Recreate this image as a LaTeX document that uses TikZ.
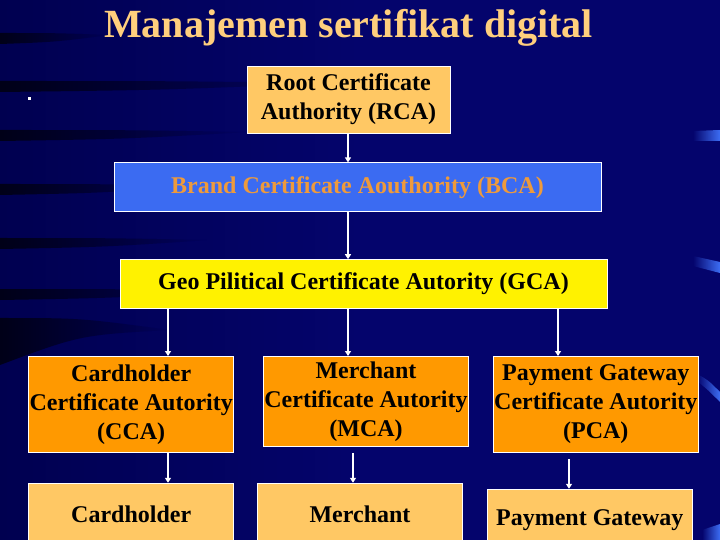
\documentclass[tikz,border=0pt]{standalone}
\usepackage{fontspec}
\setmainfont{Liberation Serif}
\usetikzlibrary{arrows.meta, positioning, fadings}

\definecolor{slidebg}{HTML}{04046C}
\definecolor{slidedark}{HTML}{000050}
\definecolor{titleorange}{HTML}{FFCF7D}
\definecolor{rootorange}{HTML}{FFC864}
\definecolor{caorange}{HTML}{FF9900}
\definecolor{brandblue}{HTML}{3B6BF2}
\definecolor{brandtext}{HTML}{EE9A3C}
\definecolor{glintblue}{HTML}{3D6EF5}

\begin{document}
\begin{tikzpicture}[
    x=1pt, y=-1pt,
    node distance=29pt,
    mynode/.style={draw=white, line width=0.8pt, align=center, inner sep=0pt,
        font=\bfseries\fontsize{24}{29}\selectfont},
    myarrow/.style={-{Triangle[length=5pt, width=6pt]}, white, line width=1.3pt},
    mylight/.style={fill=rootorange, minimum width=205pt, minimum height=62pt},
    myorange/.style={fill=caorange, minimum width=205pt, minimum height=96pt},
    myblue/.style={fill=brandblue, text=brandtext, minimum width=487pt, minimum height=49pt},
    myyellow/.style={fill=yellow, minimum width=487pt, minimum height=49pt},
    streak/.style={fill=black, opacity=0.7, path fading=east},
    glint/.style={fill=glintblue, path fading=west},
]

\useasboundingbox (0,0) rectangle (720,540);
\clip (0,0) rectangle (720,540);

% Background
\shade[left color=slidedark, right color=slidebg, middle color=slidebg] (0,0) rectangle (720,540);
\foreach \y/\len in {38/110, 86/330, 135/250, 189/200, 243/210, 294/230}
    \fill[streak] (0,\y-5) .. controls (\len*0.5,\y-5) .. (\len,\y-3)
        .. controls (\len*0.5,\y+4) .. (0,\y+6) -- cycle;
\fill[streak] (0,318) .. controls (80,318) .. (170,330) .. controls (80,335) .. (0,365) -- cycle;
\fill[glint] (693,131) -- (720,130) -- (720,141) -- (693,141) -- cycle;
\fill[glint] (693,256) -- (720,262) -- (720,273) -- (693,266) -- cycle;
\fill[glint] (697,374) .. controls (708,380) .. (720,392) -- (720,402) .. controls (708,390) .. (697,381) -- cycle;
\fill[glint] (702,530) -- (720,524) -- (720,540) -- (702,540) -- cycle;
\fill[white] (27.5,97.5) rectangle (30.5,100.5);

% Title
\node[font=\bfseries\fontsize{40}{46}\selectfont, text=titleorange, anchor=base]
    (title) at (348.5,37.5) {Manajemen sertifikat digital};

% Nodes
\node[mynode, mylight, minimum width=203pt, minimum height=67pt] (rca) at (348.5,99.5)
    {Root Certificate\\Authority (RCA)};
\node[mynode, myblue, below=29pt of rca, xshift=9pt] (bca) {Brand Certificate Aouthority (BCA)};
\node[mynode, myyellow, below=47pt of bca, xshift=6pt] (gca) {Geo Pilitical Certificate Autority (GCA)};

\node[mynode, myorange, minimum height=90pt, below=47pt of gca, xshift=2.5pt] (mca)
    {Merchant\\Certificate Autority\\(MCA)};
\node[mynode, myorange, left=29pt of mca.north west, anchor=north east] (cca)
    {Cardholder\\Certificate Autority\\(CCA)};
\node[mynode, myorange, right=24pt of mca.north east, anchor=north west] (pca)
    {Payment Gateway\\Certificate Autority\\(PCA)};

\node[mynode, mylight, below=30pt of cca] (holder) {Cardholder};
\node[mynode, mylight, below=36pt of mca, xshift=-6pt] (merchant) {Merchant};
\node[mynode, mylight, below=36pt of pca, xshift=-6pt] (gateway) {Payment Gateway};

% Arrows
\coordinate (xl) at (168,0);
\coordinate (xm) at (348,0);
\coordinate (xr) at (558,0);
\coordinate (xmb) at (353,0);
\coordinate (xrb) at (569,0);

\draw[myarrow] (rca.south -| xm) -- (bca.north -| xm);
\draw[myarrow] (bca.south -| xm) -- (gca.north -| xm);
\draw[myarrow] (gca.south -| xl) -- (cca.north -| xl);
\draw[myarrow] (gca.south -| xm) -- (mca.north -| xm);
\draw[myarrow] (gca.south -| xr) -- (pca.north -| xr);
\draw[myarrow] (cca.south -| xl) -- (holder.north -| xl);
\draw[myarrow, shorten <=6pt] (mca.south -| xmb) -- (merchant.north -| xmb);
\draw[myarrow, shorten <=6pt] (pca.south -| xrb) -- (gateway.north -| xrb);

\end{tikzpicture}
\end{document}
